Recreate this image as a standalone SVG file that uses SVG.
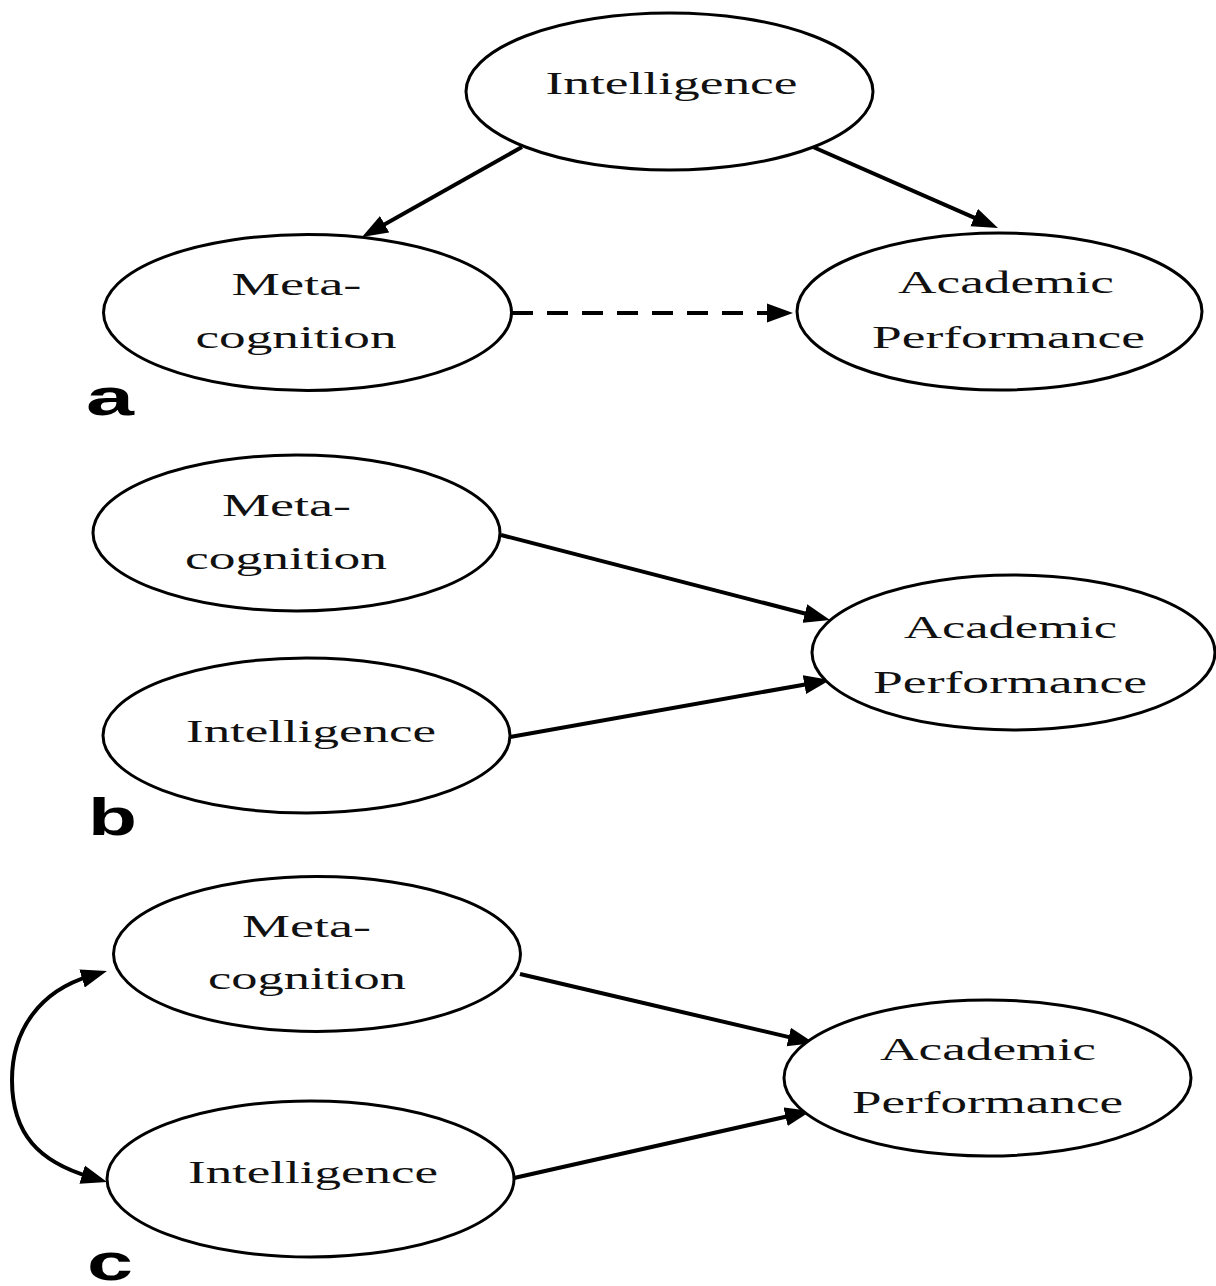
<svg xmlns="http://www.w3.org/2000/svg" width="1216" height="1286" viewBox="0 0 1216 1286">
<style>
  .node ellipse { fill: #fff; stroke: #000; stroke-width: 3; }
  .node text { font-family: "Liberation Serif", "Times New Roman", serif; font-size: 32px; fill: #111; text-anchor: middle; }
  .conn path, .conn line { fill: none; stroke: #000; stroke-width: 4; }
  .dash { stroke-dasharray: 21 14; }
  .lbl { font-family: "Liberation Sans", Arial, sans-serif; font-weight: bold; font-size: 52px; fill: #000; }
</style>
<defs>
  <marker id="ah" markerUnits="userSpaceOnUse" markerWidth="26" markerHeight="20" viewBox="0 0 26 20" refX="8" refY="10" orient="auto-start-reverse">
    <path d="M0,0.5 L26,10 L0,19.5 z" fill="#000"/>
  </marker>
</defs>
<rect width="1216" height="1286" fill="#fff"/>

<g id="connectors" class="conn">
  <line x1="522" y1="147" x2="377.7" y2="228.2" marker-end="url(#ah)"/>
  <line x1="813" y1="147" x2="981.5" y2="220.8" marker-end="url(#ah)"/>
  <line class="dash" x1="512" y1="313" x2="775" y2="313" marker-end="url(#ah)"/>
  <line x1="501" y1="535" x2="812.6" y2="615.5" marker-end="url(#ah)"/>
  <line x1="510" y1="737" x2="812.3" y2="683.2" marker-end="url(#ah)"/>
  <line x1="520" y1="974" x2="796.5" y2="1038.9" marker-end="url(#ah)"/>
  <line x1="514" y1="1178" x2="793.4" y2="1115" marker-end="url(#ah)"/>
  <path d="M89.7,976.2 C40,991 12,1030 12,1080 C12,1135 40,1162 89.8,1176.8" marker-start="url(#ah)" marker-end="url(#ah)"/>
</g>

<g id="a-intelligence" class="node">
  <ellipse cx="669.5" cy="91.5" rx="203.5" ry="78.5"/>
  <text x="671.5" y="94" textLength="252" lengthAdjust="spacingAndGlyphs">Intelligence</text>
</g>
<g id="a-metacognition" class="node">
  <ellipse cx="307.5" cy="312.5" rx="204" ry="78"/>
  <text x="296.5" y="295" textLength="130" lengthAdjust="spacingAndGlyphs">Meta-</text>
  <text x="296" y="348" textLength="201" lengthAdjust="spacingAndGlyphs">cognition</text>
</g>
<g id="a-academic" class="node">
  <ellipse cx="999.5" cy="311.5" rx="202.5" ry="78.5"/>
  <text x="1006" y="293" textLength="216" lengthAdjust="spacingAndGlyphs">Academic</text>
  <text x="1008.5" y="348" textLength="273" lengthAdjust="spacingAndGlyphs">Performance</text>
</g>

<g id="b-metacognition" class="node">
  <ellipse cx="296.5" cy="533" rx="203.5" ry="78"/>
  <text x="286.5" y="516" textLength="129" lengthAdjust="spacingAndGlyphs">Meta-</text>
  <text x="286" y="569" textLength="202" lengthAdjust="spacingAndGlyphs">cognition</text>
</g>
<g id="b-intelligence" class="node">
  <ellipse cx="306.5" cy="735.5" rx="203.5" ry="77.5"/>
  <text x="311" y="742" textLength="250" lengthAdjust="spacingAndGlyphs">Intelligence</text>
</g>
<g id="b-academic" class="node">
  <ellipse cx="1013.5" cy="652.5" rx="201.5" ry="77.5"/>
  <text x="1010.5" y="638" textLength="213" lengthAdjust="spacingAndGlyphs">Academic</text>
  <text x="1010" y="693" textLength="274" lengthAdjust="spacingAndGlyphs">Performance</text>
</g>

<g id="c-metacognition" class="node">
  <ellipse cx="317" cy="954" rx="203.5" ry="77.5"/>
  <text x="306.5" y="937" textLength="129" lengthAdjust="spacingAndGlyphs">Meta-</text>
  <text x="307" y="989" textLength="198" lengthAdjust="spacingAndGlyphs">cognition</text>
</g>
<g id="c-intelligence" class="node">
  <ellipse cx="310.5" cy="1179" rx="203.5" ry="78"/>
  <text x="313" y="1183" textLength="250" lengthAdjust="spacingAndGlyphs">Intelligence</text>
</g>
<g id="c-academic" class="node">
  <ellipse cx="987.5" cy="1078" rx="203.5" ry="78"/>
  <text x="988" y="1060" textLength="216" lengthAdjust="spacingAndGlyphs">Academic</text>
  <text x="987.5" y="1113" textLength="271" lengthAdjust="spacingAndGlyphs">Performance</text>
</g>

<g id="labels">
  <text class="lbl" x="86" y="415" textLength="48" lengthAdjust="spacingAndGlyphs">a</text>
  <text class="lbl" x="88" y="835" textLength="49" lengthAdjust="spacingAndGlyphs">b</text>
  <text class="lbl" x="87" y="1280" textLength="46" lengthAdjust="spacingAndGlyphs">c</text>
</g>
</svg>
